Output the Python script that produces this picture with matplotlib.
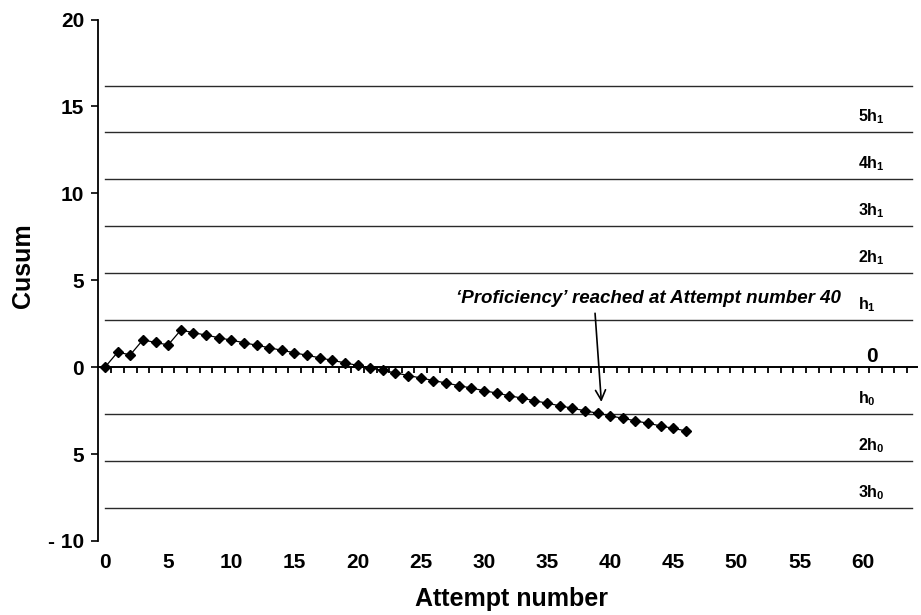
import numpy as np
import matplotlib
matplotlib.use('Agg')
import matplotlib.pyplot as plt

plt.rcParams['font.family'] = ['Liberation Sans', 'DejaVu Sans']
plt.rcParams['font.weight'] = 'bold'
plt.rcParams['mathtext.fontset'] = 'custom'
plt.rcParams['mathtext.rm'] = 'Liberation Sans:bold'
plt.rcParams['mathtext.bf'] = 'Liberation Sans:bold'
plt.rcParams['mathtext.it'] = 'Liberation Sans:bold'

#%% data
attempt = list(range(0, 47))
cusum = [0.00, 0.86, 0.71, 1.57, 1.42, 1.28, 2.13, 1.99, 1.84, 1.70,
         1.55, 1.41, 1.26, 1.12, 0.97, 0.83, 0.68, 0.54, 0.39, 0.25,
         0.10, -0.04, -0.19, -0.33, -0.48, -0.62, -0.77, -0.91, -1.06, -1.20,
         -1.35, -1.49, -1.64, -1.78, -1.93, -2.07, -2.22, -2.36, -2.51, -2.65,
         -2.80, -2.94, -3.09, -3.23, -3.38, -3.52, -3.67]

limit_values = [16.2, 13.5, 10.8, 8.1, 5.4, 2.7, -2.7, -5.4, -8.1]
limit_labels = ['', r'5h$_1$', r'4h$_1$', r'3h$_1$', r'2h$_1$', r'h$_1$',
                r'h$_0$', r'2h$_0$', r'3h$_0$']

xticks = list(range(0, 61, 5))
yticks = [20, 15, 10, 5, 0, -5, -10]
ytick_labels = ['20', '15', '10', '5', '0', '5', '- 10']

#%%
fig = plt.figure(figsize=(9.21, 6.15), dpi=100)
ax = fig.add_axes([98/921, 1-541/615, (917-98)/921, (541-19.5)/615])
xmin, xmax = -0.554, 64.29
ax.set_xlim(xmin, xmax)
ax.set_ylim(-10, 20)

# decision limit lines
for v, lab in zip(limit_values, limit_labels):
    ax.plot([0, 63.9], [v, v], color='#2a2a2a', lw=1.0, zorder=1)
    if lab:
        ax.text(59.6, v + 0.62, lab, fontsize=11.5, fontweight='bold',
                ha='left', va='baseline')

# zero line with its little ticks
ax.plot([xmin, xmax], [0, 0], color='black', lw=1.4, zorder=2, clip_on=False)
tick_x = np.arange(0.5, 64.3, 1.0)
ax.vlines(tick_x, -0.36, 0, color='black', lw=1.3, zorder=2)
ax.text(60.25, 0.3, '0', fontsize=15, fontweight='bold', ha='left', va='baseline')

# cusum curve
ax.plot(attempt, cusum, color='black', lw=0.9, marker='D', markersize=5.5,
        markerfacecolor='black', zorder=3)

ax.annotate('\u2018Proficiency\u2019 reached at Attempt number 40',
            xy=(39.3, -2.0), xytext=(43.0, 3.68),
            fontsize=13.5, fontweight='bold', style='italic',
            ha='center', va='baseline')
ax.annotate('', xy=(39.3, -2.0), xytext=(38.8, 3.1),
            arrowprops=dict(arrowstyle='->', lw=1.2, color='black',
                            mutation_scale=18, shrinkA=0, shrinkB=0))

for s in ['top', 'right', 'bottom']:
    ax.spines[s].set_visible(False)
ax.spines['left'].set_linewidth(1.3)

ax.set_xticks(xticks)
ax.set_xticklabels([str(t) for t in xticks], fontsize=15, fontweight='bold')
ax.tick_params(axis='x', length=0, pad=8.5)
ax.set_yticks(yticks)
ax.set_yticklabels(ytick_labels, fontsize=15, fontweight='bold')
ax.tick_params(axis='y', length=5, width=1.2, pad=5)

fig.text(511/921, 1-606/615, 'Attempt number', fontsize=18, fontweight='bold',
         ha='center', va='baseline')
fig.text(23/921, 1-266/615, 'Cusum', fontsize=18, fontweight='bold',
         ha='center', va='center', rotation=90)

fig.savefig('out.png', dpi=100)
